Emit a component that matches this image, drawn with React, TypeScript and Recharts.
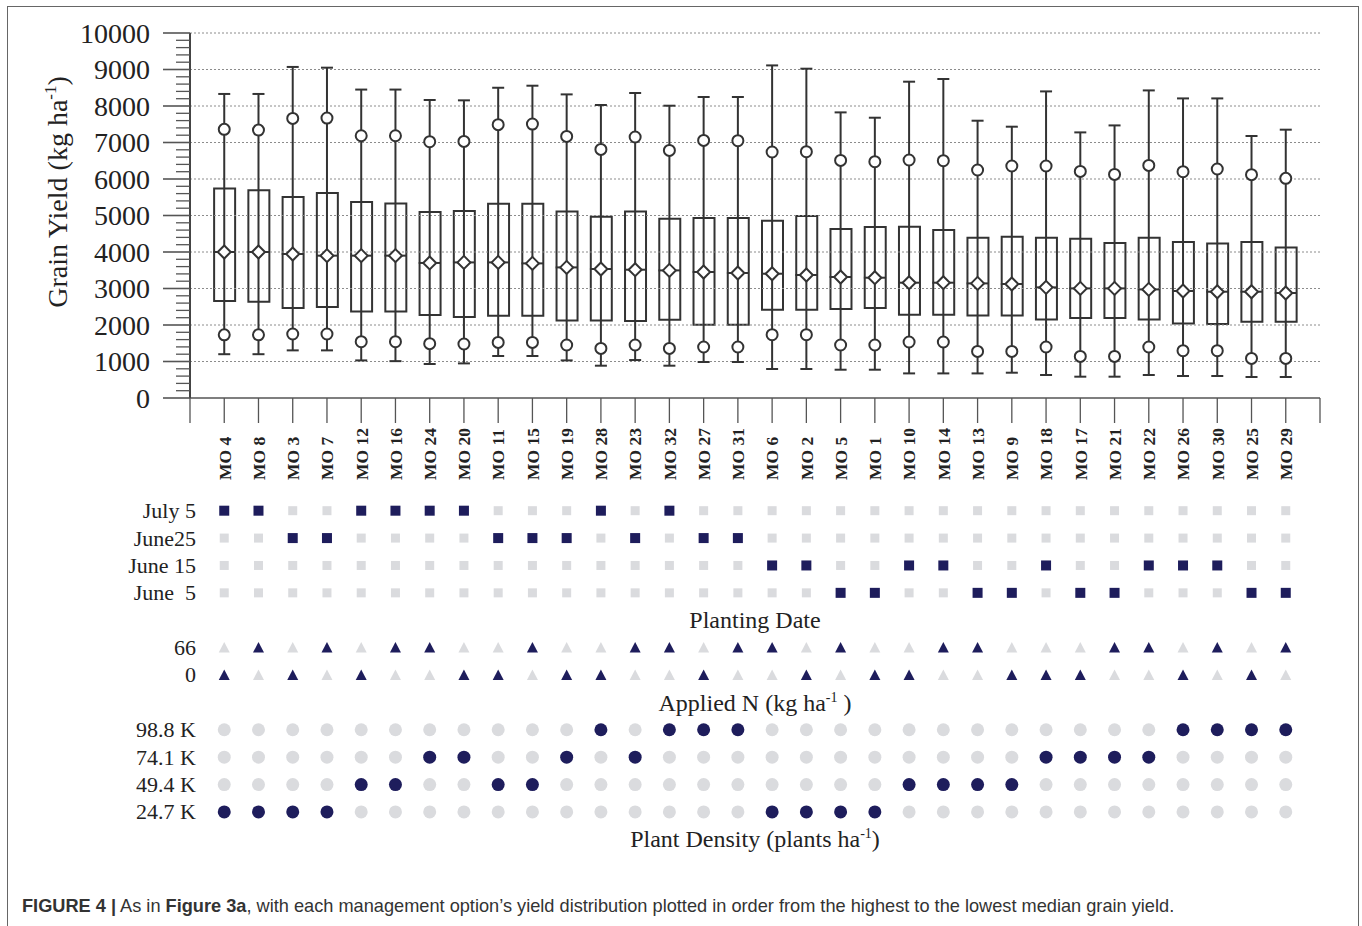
import React from 'react';
import { ComposedChart, ScatterChart, Bar, Scatter, ErrorBar, XAxis, YAxis, ReferenceLine } from 'recharts';

// management options, sorted from highest to lowest median yield
const options = [
  'MO 4', 'MO 8', 'MO 3', 'MO 7', 'MO 12', 'MO 16', 'MO 24', 'MO 20',
  'MO 11', 'MO 15', 'MO 19', 'MO 28', 'MO 23', 'MO 32', 'MO 27', 'MO 31',
  'MO 6', 'MO 2', 'MO 5', 'MO 1', 'MO 10', 'MO 14', 'MO 13', 'MO 9',
  'MO 18', 'MO 17', 'MO 21', 'MO 22', 'MO 26', 'MO 30', 'MO 25', 'MO 29',
];

// grain yield distribution (kg/ha)
const whiskerHigh = [8330, 8330, 9070, 9050, 8450, 8450, 8165, 8155, 8500, 8556, 8318, 8027, 8356, 8008, 8247, 8247, 9112, 9022, 7825, 7679, 8666, 8740, 7597, 7433, 8400, 7277, 7468, 8427, 8208, 8208, 7178, 7351];
const upperDot = [7360, 7340, 7660, 7670, 7185, 7185, 7022, 7030, 7488, 7506, 7167, 6811, 7151, 6784, 7058, 7049, 6740, 6748, 6510, 6474, 6521, 6501, 6247, 6356, 6356, 6208, 6126, 6373, 6200, 6274, 6118, 6018];
const q3 = [5740, 5690, 5510, 5615, 5370, 5330, 5096, 5123, 5323, 5323, 5112, 4967, 5112, 4912, 4932, 4932, 4858, 4986, 4630, 4685, 4693, 4603, 4392, 4419, 4392, 4364, 4247, 4392, 4274, 4236, 4274, 4126];
const median = [4000, 4000, 3945, 3900, 3900, 3900, 3700, 3715, 3715, 3688, 3578, 3534, 3515, 3496, 3452, 3425, 3405, 3370, 3315, 3296, 3159, 3159, 3140, 3123, 3031, 3003, 3003, 2975, 2932, 2912, 2912, 2877];
const q1 = [2660, 2640, 2465, 2493, 2373, 2373, 2274, 2219, 2255, 2255, 2126, 2126, 2110, 2145, 2008, 2008, 2419, 2419, 2438, 2466, 2282, 2282, 2263, 2263, 2153, 2192, 2192, 2153, 2044, 2027, 2090, 2090];
const lowerDot = [1730, 1730, 1753, 1753, 1542, 1542, 1488, 1479, 1523, 1523, 1452, 1359, 1452, 1359, 1397, 1397, 1734, 1734, 1452, 1452, 1534, 1534, 1277, 1277, 1397, 1140, 1140, 1397, 1296, 1296, 1085, 1085];
const whiskerLow = [1200, 1200, 1305, 1305, 1030, 1010, 932, 948, 1150, 1150, 1030, 885, 1040, 885, 986, 986, 795, 795, 775, 775, 674, 674, 674, 693, 630, 584, 584, 630, 603, 603, 575, 575];

// management factors for each option
const plantingDate = [
  'July 5', 'July 5', 'June25', 'June25', 'July 5', 'July 5', 'July 5', 'July 5',
  'June25', 'June25', 'June25', 'July 5', 'June25', 'July 5', 'June25', 'June25',
  'June 15', 'June 15', 'June  5', 'June  5', 'June 15', 'June 15', 'June  5', 'June  5',
  'June 15', 'June  5', 'June  5', 'June 15', 'June 15', 'June 15', 'June  5', 'June  5',
];
const appliedN = [
  '0', '66', '0', '66', '0', '66', '66', '0', '0', '66', '0', '0', '66', '66', '0', '66',
  '66', '0', '66', '0', '0', '66', '66', '0', '0', '0', '66', '66', '0', '66', '0', '66',
];
const plantDensity = [
  '24.7 K', '24.7 K', '24.7 K', '24.7 K', '49.4 K', '49.4 K', '74.1 K', '74.1 K',
  '49.4 K', '49.4 K', '74.1 K', '98.8 K', '74.1 K', '98.8 K', '98.8 K', '98.8 K',
  '24.7 K', '24.7 K', '24.7 K', '24.7 K', '49.4 K', '49.4 K', '49.4 K', '49.4 K',
  '74.1 K', '74.1 K', '74.1 K', '74.1 K', '98.8 K', '98.8 K', '98.8 K', '98.8 K',
];

const dateRows = ['July 5', 'June25', 'June 15', 'June  5'];
const nRows = ['66', '0'];
const densityRows = ['98.8 K', '74.1 K', '49.4 K', '24.7 K'];
const yieldMajor = [0, 1000, 2000, 3000, 4000, 5000, 6000, 7000, 8000, 9000, 10000];
const yieldTicks = Array.from({ length: 51 }, (_, i) => i * 200);
const xTicks = Array.from({ length: 34 }, (_, i) => i);

const INK = '#333';
const NAVY = '#1e1d5c';
const PALE = '#dadbde';
const SERIF = '"Liberation Serif", "Times New Roman", serif';

const boxData = options.map((name, i) => ({
  pos: i + 1,
  name,
  box: [q1[i], q3[i]],
  median: median[i],
  whisker: [median[i] - whiskerLow[i], whiskerHigh[i] - median[i]],
  upper: upperDot[i],
  lower: lowerDot[i],
}));

// matrix rows: 0-3 dates, 4 title, 5-6 N, 7 title, 8-11 density, 12 title
const rowLabels: Record<number, string> = {};
dateRows.forEach((r, k) => (rowLabels[k] = r));
nRows.forEach((r, k) => (rowLabels[5 + k] = r));
densityRows.forEach((r, k) => (rowLabels[8 + k] = r));
const rowTicks = Object.keys(rowLabels).map(Number);

function buildCells(values: string[], rows: string[], start: number) {
  const on: { x: number; y: number }[] = [];
  const off: { x: number; y: number }[] = [];
  values.forEach((v, i) => {
    rows.forEach((r, k) => {
      (v === r ? on : off).push({ x: i + 1, y: start + k });
    });
  });
  return { on, off };
}
const dateCells = buildCells(plantingDate, dateRows, 0);
const nCells = buildCells(appliedN, nRows, 5);
const densityCells = buildCells(plantDensity, densityRows, 8);

const titles = [
  { x: 16.5, y: 4, key: 'date' },
  { x: 16.5, y: 7, key: 'n' },
  { x: 16.5, y: 12, key: 'density' },
];

const YieldTick = (props: any) => {
  const { x, y, payload } = props;
  const major = payload.value % 1000 === 0;
  return (
    <g>
      <line x1={x - (major ? 27 : 14)} x2={x} y1={y} y2={y} stroke="#555" strokeWidth={major ? 1.6 : 1.3} />
      {major && (
        <text x={x - 40} y={y} dy="0.34em" textAnchor="end" fontFamily={SERIF} fontSize={28} fill="#222">
          {payload.value}
        </text>
      )}
    </g>
  );
};

const OptionTick = (props: any) => {
  const { x, y, payload } = props;
  const label = options[payload.value - 1];
  if (!label) return null;
  const by = y + 57;
  return (
    <text x={x} y={by} dy="0.36em" transform={`rotate(-90, ${x}, ${by})`} textAnchor="start"
      fontFamily={SERIF} fontWeight="bold" fontSize={17.5} fill="#222">
      {label}
    </text>
  );
};

const YieldTitle = () => (
  <text x={57} y={192} transform="rotate(-90, 57, 192)" textAnchor="middle" dy="0.35em"
    fontFamily={SERIF} fontSize={28} fill="#222">
    Grain Yield  (kg ha<tspan dy={-11} fontSize={17}>-1</tspan><tspan dy={11}>)</tspan>
  </text>
);

const MedianMark = (props: any) => {
  const { cx, cy } = props;
  return (
    <g>
      <line x1={cx - 11} x2={cx + 11} y1={cy} y2={cy} stroke={INK} strokeWidth={2} />
      <polygon points={`${cx},${cy - 6.5} ${cx + 6.5},${cy} ${cx},${cy + 6.5} ${cx - 6.5},${cy}`}
        fill="#fff" stroke={INK} strokeWidth={2} />
    </g>
  );
};

const Ring = (props: any) => <circle cx={props.cx} cy={props.cy} r={5.5} fill="#fff" stroke={INK} strokeWidth={2} />;

const Square = (color: string, s: number) => (props: any) =>
  <rect x={props.cx - s / 2} y={props.cy - s / 2} width={s} height={s} fill={color} />;
const Triangle = (color: string) => (props: any) => {
  const { cx, cy } = props;
  return <polygon points={`${cx},${cy - 5.5} ${cx + 5.5},${cy + 5} ${cx - 5.5},${cy + 5}`} fill={color} />;
};
const Dot = (color: string) => (props: any) => <circle cx={props.cx} cy={props.cy} r={6.5} fill={color} />;

const RowTick = (props: any) => {
  const { x, y, payload } = props;
  return (
    <text x={x + 6} y={y} dy="0.34em" textAnchor="end" fontFamily={SERIF} fontSize={22} fill="#222"
      style={{ whiteSpace: 'pre' }}>
      {rowLabels[payload.value]}
    </text>
  );
};

const TitleMark = (props: any) => {
  const { cx, cy, payload } = props;
  const common = { x: cx, y: cy, dy: '0.34em', textAnchor: 'middle' as const, fontFamily: SERIF, fontSize: 24, fill: '#222' };
  if (payload.key === 'date') return <text {...common}>Planting Date</text>;
  if (payload.key === 'n')
    return (
      <text {...common}>
        Applied N (kg ha<tspan dy={-9} fontSize={14}>-1</tspan><tspan dy={9}> )</tspan>
      </text>
    );
  return (
    <text {...common}>
      Plant Density (plants ha<tspan dy={-9} fontSize={14}>-1</tspan><tspan dy={9}>)</tspan>
    </text>
  );
};

export default function App() {
  return (
    <div style={{ position: 'absolute', left: 0, top: 0, width: 1362, height: 926, background: '#fff', overflow: 'hidden' }}>
      <div style={{ position: 'absolute', left: 7, top: 6, width: 1350, height: 930, borderLeft: '1.5px solid #666', borderTop: '1.5px solid #666', borderRight: '1.5px solid #666' }} />
      <div style={{ position: 'absolute', left: 0, top: 0 }}>
        <ComposedChart width={1362} height={490} data={boxData} margin={{ top: 33, right: 42, bottom: 0, left: 0 }}>
          {yieldMajor.slice(1).map((v) => (
            <ReferenceLine key={v} y={v} stroke="#8c8c8c" strokeDasharray="2 2" strokeWidth={1} />
          ))}
          <XAxis dataKey="pos" type="number" domain={[0, 33]} ticks={xTicks} interval={0} height={92}
            tickSize={25} tickMargin={0} axisLine={{ stroke: '#555', strokeWidth: 1.6 }}
            tickLine={{ stroke: '#555', strokeWidth: 1.3 }} tick={<OptionTick />} />
          <YAxis type="number" domain={[0, 10000]} ticks={yieldTicks} interval={0} width={190}
            tickSize={0} tickMargin={0} tickLine={false} axisLine={{ stroke: '#444', strokeWidth: 2 }}
            tick={<YieldTick />} label={<YieldTitle />} />
          <Bar dataKey="box" barSize={21} fill="none" stroke={INK} strokeWidth={2} isAnimationActive={false} />
          <Scatter dataKey="median" shape={<MedianMark />} isAnimationActive={false}>
            <ErrorBar dataKey="whisker" direction="y" width={6} stroke={INK} strokeWidth={2} />
          </Scatter>
          <Scatter dataKey="upper" shape={<Ring />} isAnimationActive={false} />
          <Scatter dataKey="lower" shape={<Ring />} isAnimationActive={false} />
        </ComposedChart>
      </div>
      <div style={{ position: 'absolute', left: 0, top: 490 }}>
        <ScatterChart width={1362} height={380} margin={{ top: 7, right: 42, bottom: 17, left: 0 }}>
          <XAxis dataKey="x" type="number" domain={[0, 33]} hide height={0} />
          <YAxis dataKey="y" type="number" domain={[-0.5, 12.5]} reversed ticks={rowTicks} interval={0}
            width={190} tickSize={0} tickMargin={0} axisLine={false} tickLine={false} tick={<RowTick />} />
          <Scatter data={dateCells.off} shape={Square(PALE, 9)} isAnimationActive={false} />
          <Scatter data={dateCells.on} shape={Square(NAVY, 10)} isAnimationActive={false} />
          <Scatter data={nCells.off} shape={Triangle(PALE)} isAnimationActive={false} />
          <Scatter data={nCells.on} shape={Triangle(NAVY)} isAnimationActive={false} />
          <Scatter data={densityCells.off} shape={Dot(PALE)} isAnimationActive={false} />
          <Scatter data={densityCells.on} shape={Dot(NAVY)} isAnimationActive={false} />
          <Scatter data={titles} shape={<TitleMark />} isAnimationActive={false} />
        </ScatterChart>
      </div>
      <div style={{ position: 'absolute', left: 22, top: 896, fontFamily: '"Liberation Sans", Arial, sans-serif', fontSize: 18.2, color: '#333', whiteSpace: 'nowrap' }}>
        <b>FIGURE 4 |</b> As in <b>Figure 3a</b>, with each management option’s yield distribution plotted in order from the highest to the lowest median grain yield.
      </div>
    </div>
  );
}
